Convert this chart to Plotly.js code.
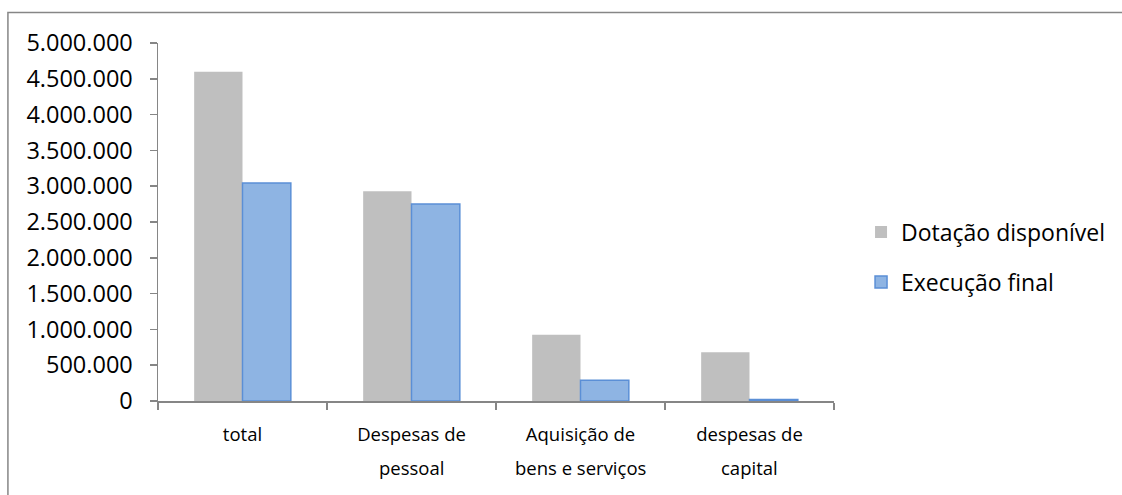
<!DOCTYPE html>
<html>
<head>
<meta charset="utf-8">
<script src="https://cdn.plot.ly/plotly-3.0.1.min.js"></script>
<style>html,body{margin:0;padding:0;background:#fff;}#chart{width:1122px;height:495px;}</style>
</head>
<body>
<div id="chart"></div>
<script>
const categories = ['total', 'Despesas de<br>pessoal', 'Aquisição de<br>bens e serviços', 'despesas de<br>capital'];
const dotacaoDisponivel = [4600000, 2930000, 925000, 680000];
const execucaoFinal = [3045000, 2750000, 290000, 20000];
const seriesNames = ['Dotação disponível', 'Execução final'];
const yTickVals = [0, 500000, 1000000, 1500000, 2000000, 2500000, 3000000, 3500000, 4000000, 4500000, 5000000];

const FONT = 'Open Sans, Lato, sans-serif';
const XFONT = 18.5;
const line1 = categories.map(c => c.split('<br>')[0]);
const line2 = categories.map(c => c.split('<br>')[1] || '');

const traces = [
  {type: 'bar', name: seriesNames[0], x: categories, y: dotacaoDisponivel, legendgroup: 'a',
   marker: {color: '#BFBFBF', line: {width: 0}}, hoverinfo: 'none'},
  {type: 'bar', name: seriesNames[1], x: categories, y: execucaoFinal, legendgroup: 'b',
   marker: {color: '#8EB4E3', line: {color: '#5B8FD6', width: 1.5}}, hoverinfo: 'none'}
];
const annotations = categories.map((c, i) => ({
  x: c, xref: 'x', y: -0.185, yref: 'paper', text: line2[i], showarrow: false,
  xanchor: 'center', yanchor: 'middle', font: {family: FONT, size: XFONT, color: '#000'}
}));
const layout = {
  width: 1122, height: 495,
  margin: {l: 158, r: 286, t: 42.5, b: 93.5, pad: 0},
  paper_bgcolor: '#fff', plot_bgcolor: '#fff',
  separators: ',.',
  font: {family: FONT, size: 23, color: '#000'},
  barmode: 'group', bargap: 0.428, bargroupgap: 0,
  showlegend: true,
  legend: {x: 1.040, xanchor: 'left', y: 0.402, yanchor: 'middle', tracegroupgap: 17,
           font: {family: FONT, size: 23, color: '#000'}, bgcolor: 'rgba(0,0,0,0)'},
  xaxis: {type: 'category', showline: true, linecolor: '#868686', linewidth: 1.5,
          tickvals: categories, ticktext: line1,
          ticks: 'outside', tickson: 'boundaries', ticklen: 7, tickcolor: '#868686', tickwidth: 1.5,
          ticklabelstandoff: 16,
          showgrid: false, zeroline: false, tickfont: {family: FONT, size: XFONT, color: '#000'}},
  yaxis: {range: [0, 5000000], tickvals: yTickVals, tickformat: ',d', showline: true,
          linecolor: '#868686', linewidth: 1.5, ticks: 'outside', ticklen: 7, tickcolor: '#868686',
          tickwidth: 1.5, showgrid: false, zeroline: false, ticklabelstandoff: 12,
          tickfont: {family: FONT, size: 23.5, color: '#000'}},
  annotations: annotations,
  shapes: [{type: 'rect', xref: 'paper', yref: 'paper', x0: -0.222, x1: 1.6, y0: -0.5, y1: 1.085,
            line: {color: '#868686', width: 1.5}, fillcolor: 'rgba(0,0,0,0)', layer: 'below'}]
};
Plotly.newPlot('chart', traces, layout, {displayModeBar: false, staticPlot: true});
</script>
</body>
</html>
